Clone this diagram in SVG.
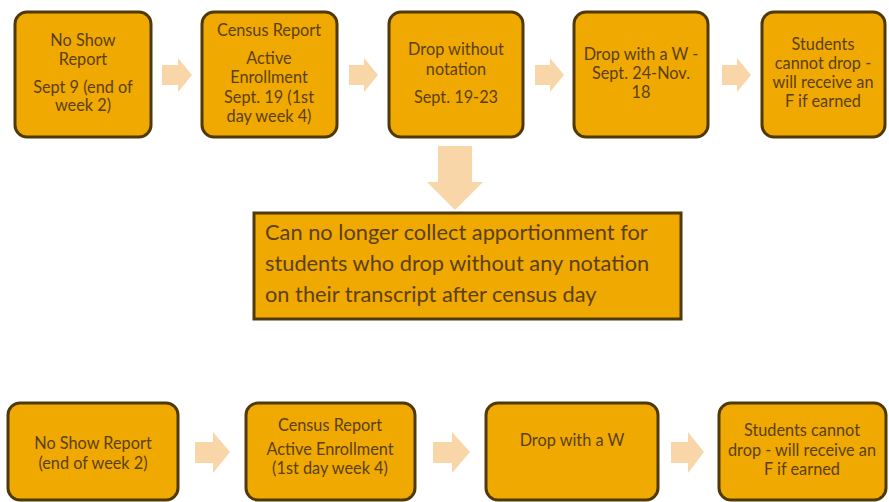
<svg xmlns="http://www.w3.org/2000/svg" width="889" height="502" viewBox="0 0 889 502">
<style>
.box{fill:#F0A900;stroke:#4f3a06;stroke-width:3}
.t{font-family:Lato,"Liberation Sans",sans-serif;font-size:16.3px;fill:#5b400f;text-anchor:middle}
.big{font-family:Lato,"Liberation Sans",sans-serif;font-size:21.8px;fill:#5b400f}
.arr{fill:#F9D6A8}
</style>
<rect width="889" height="502" fill="#ffffff"/>
<g id="connectors">
<polygon class="arr" points="162,65 178,65 178,58 192,75 178,92 178,85 162,85"/>
<polygon class="arr" points="349,65 364,65 364,58 378,75 364,92 364,85 349,85"/>
<polygon class="arr" points="535,65 550,65 550,58 564,75 550,92 550,85 535,85"/>
<polygon class="arr" points="722,65 737,65 737,58 751,75 737,92 737,85 722,85"/>
<polygon class="arr" points="438,146 472,146 472,182 483,182 455,210 427,182 438,182"/>
<polygon class="arr" points="195,442 213,442 213,432 230,452 213,473 213,463 195,463"/>
<polygon class="arr" points="433,442 452,442 452,432 470,452 452,473 452,463 433,463"/>
<polygon class="arr" points="671,442 688,442 688,432 704,452 688,473 688,463 671,463"/>
</g>
<g id="n1"><rect class="box" x="15" y="12" width="136" height="125" rx="12"/>
<text class="t" x="83" y="46">No Show</text><text class="t" x="83" y="65">Report</text>
<text class="t" x="83" y="93">Sept 9 (end of</text><text class="t" x="83" y="111">week 2)</text></g>
<g id="n2"><rect class="box" x="202" y="12" width="135" height="125" rx="12"/>
<text class="t" x="269" y="36">Census Report</text><text class="t" x="269" y="64">Active</text>
<text class="t" x="269" y="83">Enrollment</text><text class="t" x="269" y="103">Sept. 19 (1st</text>
<text class="t" x="269" y="122">day week 4)</text></g>
<g id="n3"><rect class="box" x="389" y="12" width="134" height="125" rx="12"/>
<text class="t" x="456" y="55">Drop without</text><text class="t" x="456" y="75">notation</text>
<text class="t" x="456" y="103">Sept. 19-23</text></g>
<g id="n4"><rect class="box" x="574" y="12" width="134" height="125" rx="12"/>
<text class="t" x="641" y="60">Drop with a W -</text><text class="t" x="641" y="79">Sept. 24-Nov.</text>
<text class="t" x="641" y="98">18</text></g>
<g id="n5"><rect class="box" x="762" y="12" width="123" height="125" rx="12"/>
<text class="t" x="823" y="50">Students</text><text class="t" x="823" y="69">cannot drop -</text>
<text class="t" x="823" y="88">will receive an</text><text class="t" x="823" y="107">F if earned</text></g>
<g id="n6"><rect class="box" x="254" y="213" width="427" height="106"/>
<text class="big" x="265" y="240">Can no longer collect apportionment for</text>
<text class="big" x="265" y="271">students who drop without any notation</text>
<text class="big" x="265" y="302">on their transcript after census day</text></g>
<g id="n7"><rect class="box" x="8" y="403" width="170" height="97" rx="12"/>
<text class="t" x="93" y="449">No Show Report</text><text class="t" x="93" y="469">(end of week 2)</text></g>
<g id="n8"><rect class="box" x="246" y="403" width="169" height="97" rx="12"/>
<text class="t" x="330" y="431">Census Report</text><text class="t" x="330" y="455">Active Enrollment</text>
<text class="t" x="330" y="474">(1st day week 4)</text></g>
<g id="n9"><rect class="box" x="486" y="403" width="172" height="97" rx="12"/>
<text class="t" x="572" y="446">Drop with a W</text></g>
<g id="n10"><rect class="box" x="719" y="403" width="167" height="97" rx="12"/>
<text class="t" x="802" y="436">Students cannot</text><text class="t" x="802" y="456">drop - will receive an</text>
<text class="t" x="802" y="475">F if earned</text></g>
</svg>
